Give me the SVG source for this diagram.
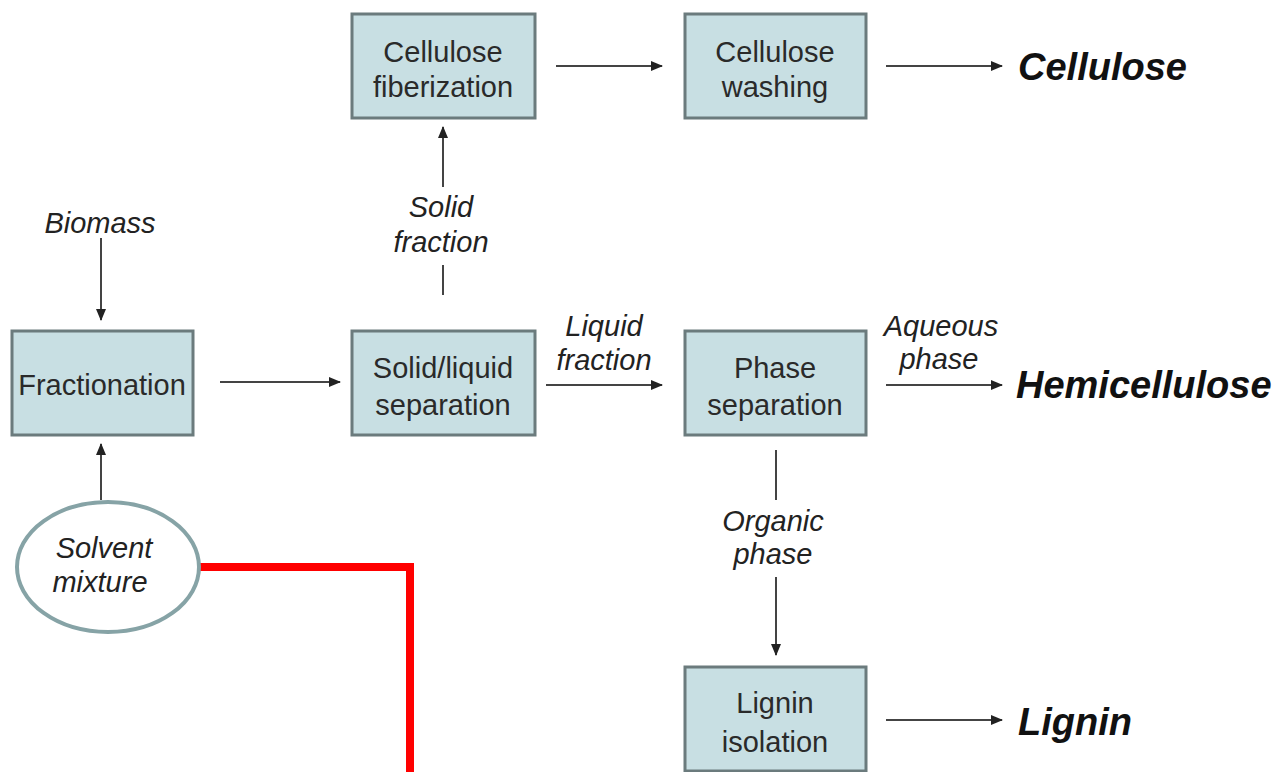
<svg xmlns="http://www.w3.org/2000/svg" width="1284" height="772" viewBox="0 0 1284 772">
<style>
.box{fill:#c8dfe3;stroke:#6b7b7d;stroke-width:3}
.bt{font-family:"Liberation Sans",Arial,sans-serif;font-size:29px;fill:#2a2a2a;text-anchor:middle}
.lb{font-family:"Liberation Sans",Arial,sans-serif;font-size:29px;font-style:italic;fill:#222;text-anchor:middle}
.pr{font-family:"Liberation Sans",Arial,sans-serif;font-size:38px;font-style:italic;font-weight:bold;fill:#111}
.c{stroke:#444;stroke-width:2;fill:none}
.a{marker-end:url(#ah)}
</style>
<defs>
<marker id="ah" viewBox="0 0 12 10" refX="11" refY="5" markerWidth="12" markerHeight="10" orient="auto" markerUnits="userSpaceOnUse">
<path d="M0,0 L12,5 L0,10 Z" fill="#222"/>
</marker>
</defs>
<rect width="1284" height="772" fill="#fff"/>
<g id="connectors">
<line class="c a" x1="101" y1="238" x2="101" y2="320"/>
<line class="c a" x1="101" y1="500" x2="101" y2="444"/>
<line class="c a" x1="220" y1="382" x2="340" y2="382"/>
<line class="c" x1="443" y1="295" x2="443" y2="265"/>
<line class="c a" x1="443" y1="187" x2="443" y2="127"/>
<line class="c a" x1="546" y1="385" x2="662" y2="385"/>
<line class="c a" x1="556" y1="66" x2="662" y2="66"/>
<line class="c a" x1="886" y1="66" x2="1002" y2="66"/>
<line class="c a" x1="886" y1="385" x2="1002" y2="385"/>
<line class="c" x1="776" y1="450" x2="776" y2="500"/>
<line class="c a" x1="776" y1="577" x2="776" y2="655"/>
<line class="c a" x1="886" y1="720" x2="1002" y2="720"/>
<polyline points="200,567 410,567 410,772" fill="none" stroke="#ff0000" stroke-width="8"/>
</g>
<g id="fiberization"><rect class="box" x="352" y="14" width="183" height="104"/><text class="bt" x="443" y="62">Cellulose</text><text class="bt" x="443" y="97">fiberization</text></g>
<g id="washing"><rect class="box" x="685" y="14" width="181" height="104"/><text class="bt" x="775" y="62">Cellulose</text><text class="bt" x="775" y="97">washing</text></g>
<g id="fractionation"><rect class="box" x="12" y="331" width="181" height="104"/><text class="bt" x="102" y="395">Fractionation</text></g>
<g id="solidliquid"><rect class="box" x="352" y="331" width="183" height="104"/><text class="bt" x="443" y="378">Solid/liquid</text><text class="bt" x="443" y="415">separation</text></g>
<g id="phasesep"><rect class="box" x="685" y="331" width="181" height="104"/><text class="bt" x="775" y="378">Phase</text><text class="bt" x="775" y="415">separation</text></g>
<g id="lignin-isolation"><rect class="box" x="685" y="667" width="181" height="104"/><text class="bt" x="775" y="713">Lignin</text><text class="bt" x="775" y="752">isolation</text></g>
<g id="solvent"><ellipse cx="108" cy="567" rx="91" ry="65" fill="#fff" stroke="#86a3a6" stroke-width="4"/><text class="lb" x="104" y="558">Solvent</text><text class="lb" x="100" y="592">mixture</text></g>
<g id="labels">
<text class="lb" x="100" y="233">Biomass</text>
<text class="lb" x="441" y="217">Solid</text>
<text class="lb" x="441" y="252">fraction</text>
<text class="lb" x="604" y="336">Liquid</text>
<text class="lb" x="604" y="370">fraction</text>
<text class="lb" x="941" y="336">Aqueous</text>
<text class="lb" x="939" y="369">phase</text>
<text class="lb" x="773" y="531">Organic</text>
<text class="lb" x="773" y="564">phase</text>
</g>
<g id="products">
<text class="pr" x="1018" y="80">Cellulose</text>
<text class="pr" x="1016" y="398">Hemicellulose</text>
<text class="pr" x="1018" y="735">Lignin</text>
</g>
</svg>
